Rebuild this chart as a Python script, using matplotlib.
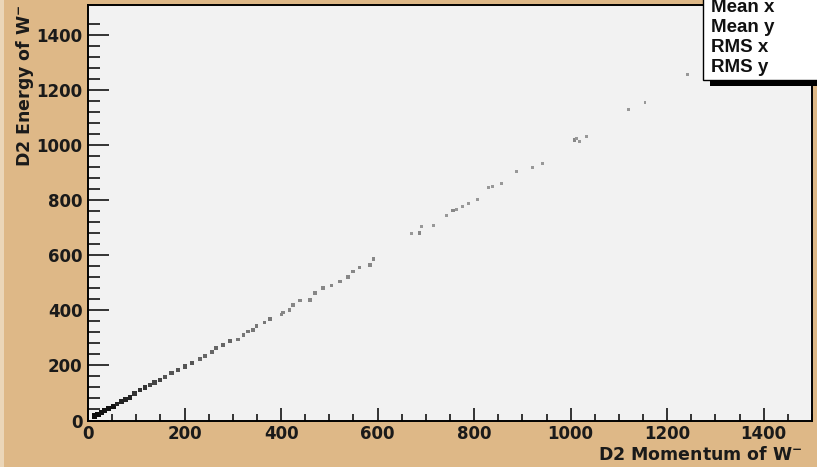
import matplotlib
matplotlib.use("Agg")
import matplotlib.pyplot as plt
from matplotlib.patches import Rectangle
from matplotlib.ticker import MultipleLocator, FixedLocator
import numpy as np

# D2 momentum (x) and energy (y) of the W- candidates, with bin contents
momentum = [14, 21, 28, 35, 43, 52, 60, 70, 78, 87, 97, 108, 118, 128, 138, 149,
            159, 173, 187, 201, 215, 232, 242, 256, 266, 280, 294, 311, 322, 332,
            342, 349, 366, 377, 401, 404, 418, 425, 439, 460, 470, 487, 505, 522,
            539, 549, 562, 584, 591,
            671, 687, 691, 716, 742, 756, 763, 776, 788, 806, 830, 839, 857, 888,
            921, 942, 1008, 1012, 1019, 1032, 1119, 1154, 1243]
energy = [16, 23, 30, 38, 44, 50, 60, 68, 76, 84, 98, 111, 120, 129, 138, 147,
          159, 172, 184, 196, 208, 223, 235, 250, 263, 275, 289, 295, 311, 323,
          329, 344, 356, 369, 384, 393, 402, 420, 436, 438, 463, 481, 490, 505,
          521, 541, 557, 565, 587,
          678, 681, 704, 708, 746, 762, 767, 776, 790, 803, 845, 852, 860, 904,
          921, 935, 1019, 1024, 1013, 1032, 1129, 1156, 1256]
counts = [10, 10, 9, 9, 9, 9, 8, 8, 8, 8, 7, 7, 7, 6, 6, 6,
          5, 5, 5, 5, 5, 4, 4, 4, 4, 4, 4, 3, 3, 3,
          3, 3, 3, 3, 2, 2, 2, 2, 2, 2, 2, 2, 2, 2,
          2, 2, 2, 2, 2,
          1, 2, 1, 1, 1, 2, 1, 1, 1, 1, 1, 1, 1, 1,
          1, 1, 2, 1, 1, 1, 1, 1, 1]

x_major = [0, 200, 400, 600, 800, 1000, 1200, 1400]
y_major = [0, 200, 400, 600, 800, 1000, 1200, 1400]

pad_color = "#DEB887"
frame_color = "#F2F2F2"

W, H = 817, 467
fig = plt.figure(figsize=(W / 100, H / 100), dpi=100, facecolor=pad_color)

# lighter strip along the left border of the canvas
fig.patches.append(Rectangle((0, 0), 4 / W, 1, transform=fig.transFigure,
                             facecolor="#EBD6B8", edgecolor="none", zorder=0))

ax = fig.add_axes([88 / W, (H - 420.5) / H, (812 - 88) / W, (420.5 - 5) / H])
ax.set_facecolor(frame_color)
ax.set_xlim(0, 1500)
ax.set_ylim(0, 1510)

# grey level and marker size of each bin follow its content
shade = [str(max(0.05, 0.66 - 0.065 * c)) for c in counts]
sizes = [3.5 + 1.1 * c for c in counts]
ax.scatter(momentum, energy, c=shade, marker="s", s=sizes, linewidths=0, zorder=3)

for sp in ax.spines.values():
    sp.set_linewidth(1.4)
    sp.set_color("black")

ax.xaxis.set_major_locator(FixedLocator(x_major))
ax.yaxis.set_major_locator(FixedLocator(y_major))
ax.xaxis.set_minor_locator(MultipleLocator(50))
ax.yaxis.set_minor_locator(FixedLocator(np.arange(40, 1441, 40)))
ax.tick_params(axis="both", which="both", direction="in", top=False, right=False,
               width=1.1, colors="black")
ax.tick_params(axis="y", which="major", length=15)
ax.tick_params(axis="y", which="minor", length=8.5)
ax.tick_params(axis="x", which="major", length=9.4)
ax.tick_params(axis="x", which="minor", length=5)
ax.tick_params(axis="x", which="major", pad=3)
ax.tick_params(axis="y", which="major", pad=4)

tick_font = dict(family="DejaVu Sans", weight="bold", size=12)
ax.set_xticks(x_major)
ax.set_xticklabels([str(v) for v in x_major], fontdict=tick_font)
ax.set_yticks(y_major)
ax.set_yticklabels([str(v) for v in y_major], fontdict=tick_font)
for lbl in ax.get_xticklabels() + ax.get_yticklabels():
    lbl.set_color("#1a1a1a")

label_font = dict(family="DejaVu Sans", weight="bold", size=12.5, color="#1a1a1a")
fig.text(803 / W, (H - 455) / H, r"D2 Momentum of W$^{\mathbf{-}}$",
         ha="right", va="center", **label_font)
fig.text(25 / W, (H - 4) / H, r"D2 Energy of W$^{\mathbf{-}}$", rotation=90,
         ha="center", va="top", **label_font)

# statistics box with its drop shadow, partly outside the canvas
fig.patches.append(Rectangle((710 / W, (H - 86) / H), 1, 1, transform=fig.transFigure,
                             facecolor="black", edgecolor="none", zorder=5))
fig.patches.append(Rectangle((703 / W, (H - 80) / H), 1, 1, transform=fig.transFigure,
                             facecolor="white", edgecolor="black", linewidth=1.0,
                             zorder=6))
stats = ["Mean x", "Mean y", "RMS x", "RMS y"]
for i, s in enumerate(stats):
    fig.text(711 / W, (H - (7 + 20.3 * i)) / H, s, ha="left", va="center",
             family="Liberation Sans", weight="bold", size=13.5,
             color="#111111", zorder=7)

fig.savefig("out.png", dpi=100, facecolor=pad_color)
